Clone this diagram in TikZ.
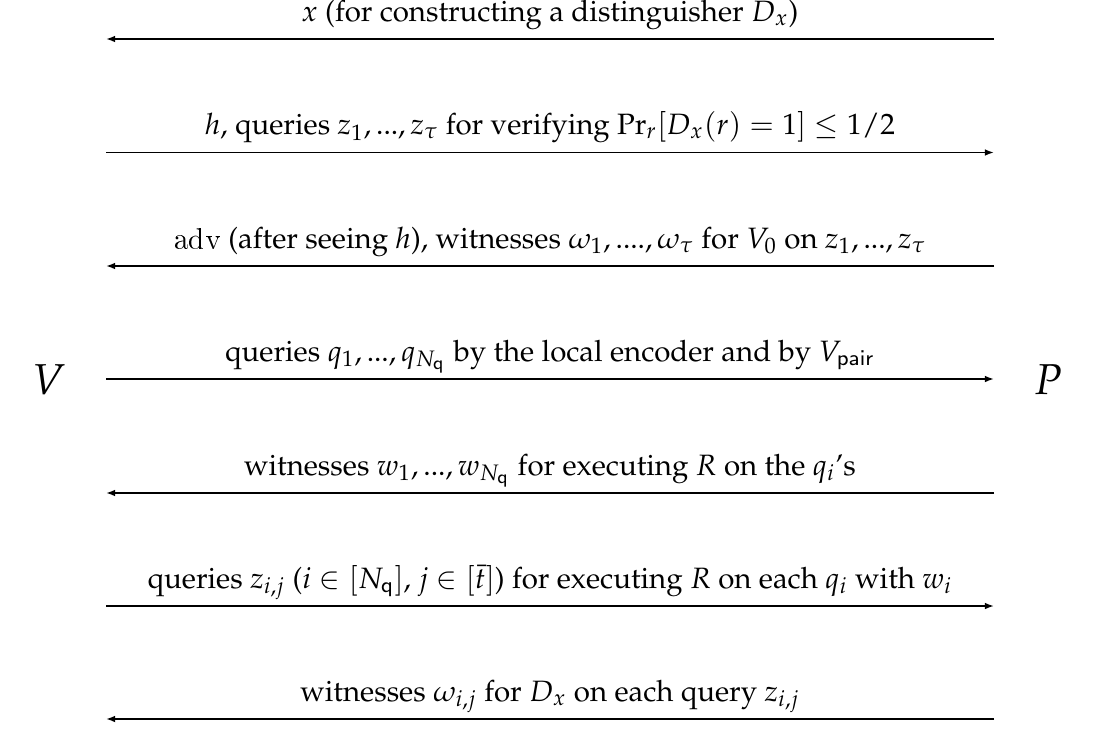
\documentclass[tikz,border=0pt]{standalone}
\usepackage[T1]{fontenc}
\usepackage{mathpazo}
\usetikzlibrary{arrows.meta,calc}
\tikzset{
  msg/.style={line width=0.6pt, -{Latex[length=3.4pt,width=2.5pt]}},
  lbl/.style={anchor=base, inner sep=0pt, font=\fontsize{10.9}{13}\selectfont},
  party/.style={anchor=base, inner sep=0pt, font=\fontsize{16}{19}\selectfont}
}
\begin{document}
\begin{tikzpicture}[x=0.37037pt,y=-0.37037pt]
\useasboundingbox (0,0) rectangle (1100,729);
\node[party] (V) at (49,394) {$V$};
\node[party] (P) at (1048,394) {$P$};
\foreach \i/\y in {1/39,2/152.5,3/266,4/379,5/493,6/606,7/719}{
  \coordinate (L\i) at (106,\y);
  \coordinate (R\i) at (994,\y);
}
\draw[msg] (R1) -- (L1);
\draw[msg] (L2) -- (R2);
\draw[msg] (R3) -- (L3);
\draw[msg] (L4) -- (R4);
\draw[msg] (R5) -- (L5);
\draw[msg] (L6) -- (R6);
\draw[msg] (R7) -- (L7);
\node[lbl] (t1) at ([yshift=18*0.37037pt]$(L1)!0.5!(R1)$) {$x$ (for constructing a distinguisher $D_x$)};
\node[lbl] (t2) at ([yshift=18*0.37037pt]$(L2)!0.5!(R2)$) {$h$, queries $z_1, ..., z_\tau$ for verifying $\Pr_r[D_x(r)=1]\leq 1/2$};
\node[lbl] (t3) at ([yshift=18*0.37037pt]$(L3)!0.5!(R3)$) {\texttt{adv} (after seeing $h$), witnesses $\omega_1, ...., \omega_\tau$ for $V_0$ on $z_1, ..., z_\tau$};
\node[lbl] (t4) at ([yshift=18*0.37037pt]$(L4)!0.5!(R4)$) {queries $q_1, ..., q_{N_{\mathsf{q}}}$ by the local encoder and by $V_{\mathsf{pair}}$};
\node[lbl] (t5) at ([yshift=18*0.37037pt]$(L5)!0.5!(R5)$) {witnesses $w_1, ..., w_{N_{\mathsf{q}}}$ for executing $R$ on the $q_i$'s};
\node[lbl] (t6) at ([yshift=18*0.37037pt]$(L6)!0.5!(R6)$) {queries $z_{i,j}$ ($i\in[N_{\mathsf{q}}]$, $j\in[\bar{t}]$) for executing $R$ on each $q_i$ with $w_i$};
\node[lbl] (t7) at ([yshift=18*0.37037pt]$(L7)!0.5!(R7)$) {witnesses $\omega_{i,j}$ for $D_x$ on each query $z_{i,j}$};
\end{tikzpicture}
\end{document}
